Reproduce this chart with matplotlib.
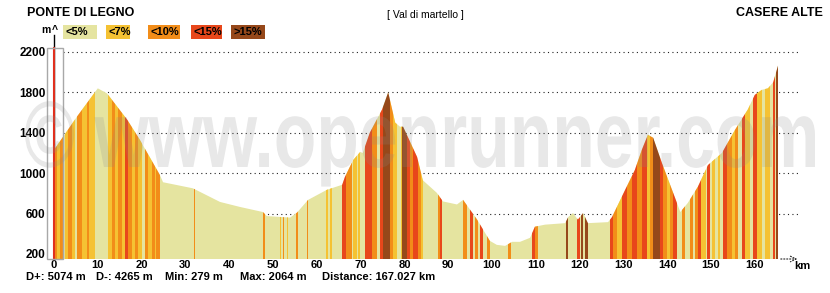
import matplotlib
matplotlib.use("Agg")
import matplotlib.pyplot as plt
from matplotlib.patches import Rectangle, Polygon, PathPatch
from matplotlib.textpath import TextPath
from matplotlib.font_manager import FontProperties
from matplotlib.transforms import Affine2D

plt.rcParams['font.family'] = ['Liberation Sans', 'DejaVu Sans']

# profile (km, m)
dist_km = [0, 5.25, 10.0, 12.1, 16.7, 19.6, 24.2, 24.9, 31.7, 34.0, 37.9, 42.5, 47.7, 48.6,
           53.9, 55.5, 58.0, 62.3, 65.8, 66.4, 68.3, 69.9, 70.5, 72.1, 74.9, 76.3, 77.9, 79.0,
           79.7, 82.9, 84.2, 87.4, 88.8, 92.0, 93.4, 96.6, 99.5, 101.1, 103.0, 104.6, 106.4,
           108.7, 109.8, 112.1, 116.7, 117.4, 118.5, 119.6, 120.8, 121.9, 126.5, 127.4, 130.4,
           132.6, 134.2, 135.6, 136.8, 138.8, 141.1, 143.0, 144.7, 147.0, 149.3, 152.5, 155.5,
           158.4, 160.0, 161.6, 163.0, 164.2, 165.3]
elev_m = [1230, 1560, 1840, 1790, 1530, 1330, 980, 910, 850, 800, 715, 665, 615, 575,
          560, 610, 735, 835, 885, 960, 1130, 1210, 1200, 1400, 1630, 1800, 1500, 1460,
          1460, 1160, 930, 805, 720, 690, 735, 540, 330, 290, 280, 320, 320,
          360, 470, 490, 505, 565, 605, 540, 605, 505, 515, 565, 835,
          1030, 1230, 1380, 1350, 1100, 835, 615, 705, 865, 1080, 1200, 1430,
          1630, 1775, 1825, 1840, 1900, 2064]

# gradient stripes: start km, end km, class (1 <7%, 2 <10%, 3 <15%, 4 >15%)
stripes = [
    (0.0, 0.7, 2), (0.7, 1.4, 1), (1.4, 2.05, 2), (2.5, 3.2, 1), (3.2, 4.1, 2), (4.1, 4.8, 1),
    (5.25, 6.4, 2), (6.4, 7.5, 1), (7.5, 8.0, 2), (8.0, 9.4, 1),
    (12.4, 13.2, 1), (13.2, 13.9, 2), (13.9, 14.7, 1), (14.7, 15.5, 2), (15.5, 16.2, 1),
    (16.2, 17.0, 3), (17.0, 17.7, 2), (17.7, 18.5, 1), (18.5, 19.2, 2), (19.2, 20.0, 1),
    (20.8, 21.5, 2), (21.5, 22.3, 1), (22.3, 23.1, 2), (23.1, 23.4, 1), (23.4, 24.2, 2),
    (31.9, 32.2, 2), (47.8, 48.1, 2), (51.5, 51.8, 1), (52.3, 52.6, 2), (53.2, 53.5, 1),
    (55.3, 55.6, 2), (57.7, 58.0, 2), (62.2, 62.5, 1), (63.1, 63.4, 1),
    (65.8, 66.7, 3), (66.7, 68.0, 2), (68.3, 69.2, 1), (69.5, 69.8, 1), (71.0, 72.6, 3),
    (72.6, 73.7, 2), (74.4, 75.1, 3), (75.1, 76.7, 4), (76.7, 77.4, 2), (77.4, 78.3, 1),
    (79.2, 79.5, 1), (79.5, 80.6, 4), (80.6, 81.3, 3), (81.3, 82.0, 2), (82.0, 83.1, 3),
    (83.1, 83.8, 2), (83.8, 84.2, 1), (87.7, 88.1, 2), (88.1, 88.6, 3), (93.4, 94.3, 2),
    (95.0, 95.7, 3), (96.1, 96.8, 2), (97.3, 97.9, 3), (98.9, 99.5, 2), (103.7, 104.3, 2),
    (109.1, 109.8, 3), (109.8, 110.4, 2),
    (117.0, 117.4, 4), (119.4, 120.1, 3), (120.4, 120.8, 4), (121.2, 121.9, 4),
    (126.9, 127.6, 3), (127.6, 128.5, 2), (128.5, 129.7, 1), (129.7, 130.8, 3), (130.8, 132.0, 2),
    (132.0, 133.1, 3), (133.1, 134.2, 2), (134.2, 135.3, 3), (135.3, 136.0, 1), (136.0, 136.8, 2),
    (136.8, 138.4, 4), (138.4, 139.0, 3), (139.0, 139.9, 2), (139.9, 140.6, 1), (140.6, 141.3, 2),
    (141.3, 142.2, 3), (143.4, 144.1, 2), (145.2, 145.9, 2), (146.3, 147.0, 2), (147.0, 147.7, 3),
    (147.7, 148.9, 1), (149.1, 149.8, 3), (150.2, 150.9, 1), (151.6, 152.1, 1), (152.7, 153.7, 3),
    (153.7, 154.8, 2), (154.8, 155.5, 1), (155.5, 156.2, 2), (157.1, 157.8, 3), (157.8, 158.9, 1),
    (159.6, 160.5, 3), (160.5, 161.6, 1), (162.3, 163.5, 1), (164.2, 164.6, 3), (164.8, 165.3, 4),
]

grade_labels = ['<5%', '<7%', '<10%', '<15%', '>15%']
grade_colors = ['#E5E4A0', '#F5C233', '#F28D19', '#E8471B', '#96481A']

x_ticks = list(range(0, 170, 10))
y_ticks = [200, 600, 1000, 1400, 1800, 2200]

W, H = 830, 293
fig = plt.figure(figsize=(8.3, 2.93), dpi=100)
ax = fig.add_axes([54 / W, 1 - 259 / H, (800 - 54) / W, (259 - 35) / H])
xmax = (800 - 54) / 4.38
ax.set_xlim(0, xmax)
ax.set_ylim(150, 2368)

base = 150
verts = [(0, base)] + list(zip(dist_km, elev_m)) + [(dist_km[-1], base)]
prof = Polygon(verts, closed=True, facecolor=grade_colors[0], edgecolor='none', zorder=2)
ax.add_patch(prof)
for s, e, c in stripes:
    sp = ax.axvspan(s, e, color=grade_colors[c], lw=0, zorder=3)
    sp.set_clip_path(prof)

# dotted grid
ax.hlines(y_ticks[1:], 2.0, xmax, colors='#222222', linestyles=(0, (1, 3)),
          lw=0.8, zorder=1)

for sp in ['top', 'right', 'bottom']:
    ax.spines[sp].set_visible(False)
ax.spines['left'].set_color('black')
ax.spines['left'].set_linewidth(1)

ax.plot([0, 0], [base, 2238], color='#E0301E', lw=1.5, zorder=6, clip_on=False)
ax.add_patch(Rectangle((-7 / 4.38, base), 16 / 4.38, 2238 - base, fill=False,
                       edgecolor='#A8A8A8', lw=1, zorder=6, clip_on=False))

ax.set_xticks(x_ticks)
ax.set_yticks(y_ticks)
ax.tick_params(axis='x', length=0, pad=0.5, labelsize=8)
ax.tick_params(axis='y', length=0, pad=6, labelsize=8.5)
for lab in ax.get_xticklabels() + ax.get_yticklabels():
    lab.set_fontweight('bold')

ax.annotate('', xy=(xmax, base), xytext=(dist_km[-1], base),
            arrowprops=dict(arrowstyle='->', linestyle=':', color='#222222', lw=0.8),
            annotation_clip=False)
fig.text(802 / W, 1 - 266 / H, 'km', fontsize=8, fontweight='bold', ha='center', va='center')

# header
fig.text(27 / W, 1 - 13 / H, 'PONTE DI LEGNO', fontsize=9, fontweight='bold', va='center')
fig.text(823 / W, 1 - 13 / H, 'CASERE ALTE', fontsize=9, fontweight='bold', va='center', ha='right')
fig.text(425 / W, 1 - 15 / H, '[ Val di martello ]', fontsize=7.5, va='center', ha='center')
fig.text(46 / W, 1 - 30 / H, 'm', fontsize=7.5, fontweight='bold', va='center', ha='center')
fig.text(55 / W, 1 - 30 / H, '^', fontsize=7.5, fontweight='bold', va='center', ha='center')

box_x = [63, 106, 148, 191, 231]
box_w = [34, 24, 32, 31, 34]
for bx, bw, lab, col in zip(box_x, box_w, grade_labels, grade_colors):
    fig.add_artist(Rectangle((bx / W, 1 - 39 / H), bw / W, 14 / H, transform=fig.transFigure,
                             facecolor=col, edgecolor='none'))
    fig.text((bx + 2) / W, 1 - 32 / H, lab, fontsize=8, fontweight='bold', va='center', ha='left')

# footer
stats_x = [26, 96, 165, 240, 322]
stats = ['D+: 5074 m', 'D-: 4265 m', 'Min: 279 m', 'Max: 2064 m', 'Distance: 167.027 km']
for sx, st in zip(stats_x, stats):
    fig.text(sx / W, 1 - 277 / H, st, fontsize=8, fontweight='bold', va='center', ha='left')

# watermark
fp = FontProperties(family='Liberation Sans', weight='bold')
tp = TextPath((0, 0), '\u00a9 www.openrunner.com', size=1, prop=fp)
ext = tp.get_extents()
sx_ = 790 / ext.width
sy_ = 50 / 0.53
tr = Affine2D().translate(-ext.x0, 0).scale(sx_, sy_).translate(25, H - 167)
fig.add_artist(PathPatch(tp, transform=tr, facecolor=(0.55, 0.55, 0.55), alpha=0.2,
                         edgecolor='none', zorder=10))

fig.savefig('out.png', dpi=100)
